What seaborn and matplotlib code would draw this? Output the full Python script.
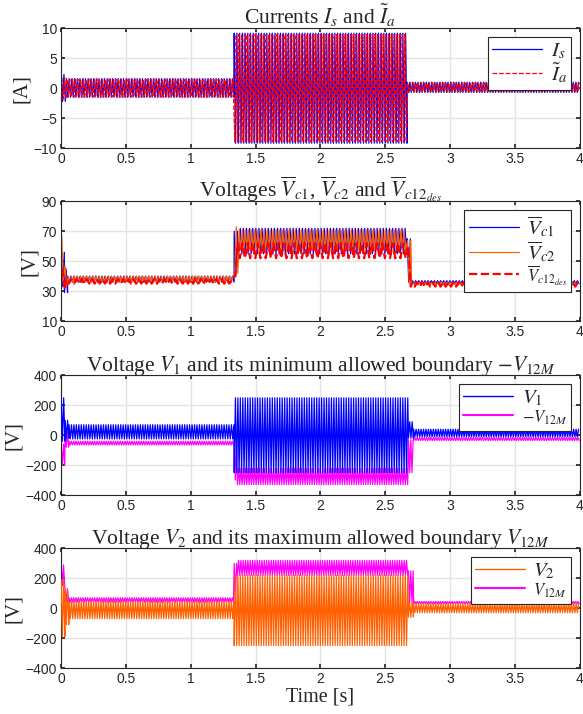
import numpy as np
import matplotlib
matplotlib.use("Agg")
import matplotlib.pyplot as plt
import seaborn as sns

# ---- data: piecewise bands (start, end, low, high) ----
# Panel 1: currents [A]
is_t0 = [0.0, 0.04, 1.335, 2.67]
is_t1 = [0.04, 1.335, 2.67, 4.0]
is_lo = [-2.2, -1.5, -9.2, -0.7]
is_hi = [2.3, 1.6, 9.2, 1.0]

ia_t0 = [0.0, 0.04, 1.335, 2.67]
ia_t1 = [0.04, 1.335, 2.67, 4.0]
ia_lo = [-1.8, -1.5, -9.0, -0.6]
ia_hi = [1.8, 1.5, 9.0, 0.9]

# Panel 2: capacitor voltages [V]
vc1_t0 = [0.0, 0.025, 0.05, 1.335, 1.37, 2.67, 2.70]
vc1_t1 = [0.025, 0.05, 1.335, 1.37, 2.67, 2.70, 4.0]
vc1_lo = [33, 29, 36, 40, 55, 36, 35]
vc1_hi = [56, 45, 40, 70, 72, 65, 37]

vc2_t0 = [0.0, 0.025, 0.05, 1.335, 1.37, 2.67, 2.70]
vc2_t1 = [0.025, 0.05, 1.335, 1.37, 2.67, 2.70, 4.0]
vc2_lo = [35, 33, 36, 42, 57, 35, 34]
vc2_hi = [67, 47, 40, 73, 71, 64, 36]

vcd_t0 = [0.0, 0.03, 0.05, 1.335, 1.37, 2.67, 2.70]
vcd_t1 = [0.03, 0.05, 1.335, 1.37, 2.67, 2.70, 4.0]
vcd_lo = [31, 33, 35, 40, 52, 33, 33]
vcd_hi = [45, 38, 38, 62, 62, 60, 36]

# Panel 3: V1 and -V12M [V]
v1_t0 = [0.0, 0.03, 0.06, 1.335, 2.68, 2.72]
v1_t1 = [0.03, 0.06, 1.335, 2.68, 2.72, 4.0]
v1_lo = [-40, -20, -25, -250, -20, -10]
v1_hi = [250, 100, 70, 250, 90, 40]

m1_t0 = [0.0, 0.03, 0.06, 1.335, 1.36, 2.68, 2.72]
m1_t1 = [0.03, 0.06, 1.335, 1.36, 2.68, 2.72, 4.0]
m1_lo = [-200, -80, -65, -300, -330, -250, -35]
m1_hi = [-60, 20, -40, -60, -220, -30, -15]

# Panel 4: V2 and V12M [V]
v2_t0 = [0.0, 0.03, 0.06, 1.335, 2.68, 2.72]
v2_t1 = [0.03, 0.06, 1.335, 2.68, 2.72, 4.0]
v2_lo = [-190, -110, -70, -250, -60, -30]
v2_hi = [190, 120, 45, 220, 40, 30]

m2_t0 = [0.0, 0.03, 0.06, 1.335, 1.36, 2.68, 2.72]
m2_t1 = [0.03, 0.06, 1.335, 1.36, 2.68, 2.72, 4.0]
m2_lo = [150, 40, 40, 60, 220, 40, 30]
m2_hi = [290, 130, 70, 300, 320, 250, 45]


def band(t0, t1, lo, hi, step, shift=0.0):
    """oscillating trace that swings between the read low/high of each band"""
    xs, ys = [], []
    k = 0
    for a, b, l, h in zip(t0, t1, lo, hi):
        t = a + shift
        while t < b:
            xs.append(t)
            ys.append(h if k % 2 == 0 else l)
            t += step
            k += 1
    return np.array(xs), np.array(ys)


sns.set_theme(style="whitegrid")
plt.rcParams["font.family"] = ["Liberation Sans", "DejaVu Sans"]
plt.rcParams["mathtext.fontset"] = "stix"
plt.rcParams["axes.edgecolor"] = "#262626"
plt.rcParams["grid.color"] = "#e3e3e3"

serif = ["Liberation Serif", "DejaVu Serif"]
tsize = 15.5

fig = plt.figure(figsize=(5.83, 7.14), dpi=100)
left, width = 0.105, 0.889
bottoms = [0.7927, 0.5504, 0.3067, 0.0644]
height = 0.1675
axes = [fig.add_axes([left, b, width, height]) for b in bottoms]

# Panel 1
ax = axes[0]
x, y = band(is_t0, is_t1, is_lo, is_hi, 0.0105)
sns.lineplot(x=x, y=y, ax=ax, color="#0000ff", lw=0.9, estimator=None, sort=False, label="$I_s$")
x, y = band(ia_t0, ia_t1, ia_lo, ia_hi, 0.0105, 0.005)
sns.lineplot(x=x, y=y, ax=ax, color="#ff0000", lw=0.9, linestyle="--", estimator=None, sort=False,
             label=r"$\tilde{I}_a$")
ax.set_ylim(-10, 10)
ax.set_yticks([-10, -5, 0, 5, 10])
ax.set_ylabel("[A]", family=serif, fontsize=15, labelpad=2)
ax.set_title(r"Currents $I_s$ and $\tilde{I}_a$", family=serif, fontsize=tsize, pad=3)

# Panel 2
ax = axes[1]
x, y = band(vc1_t0, vc1_t1, vc1_lo, vc1_hi, 0.012)
sns.lineplot(x=x, y=y, ax=ax, color="#0000ff", lw=0.9, estimator=None, sort=False,
             label=r"$\overline{V}_{c1}$")
x, y = band(vc2_t0, vc2_t1, vc2_lo, vc2_hi, 0.012, 0.004)
sns.lineplot(x=x, y=y, ax=ax, color="#ff6000", lw=0.9, estimator=None, sort=False,
             label=r"$\overline{V}_{c2}$")
x, y = band(vcd_t0, vcd_t1, vcd_lo, vcd_hi, 0.02, 0.008)
sns.lineplot(x=x, y=y, ax=ax, color="#ff0000", lw=1.6, linestyle="--", estimator=None, sort=False,
             label=r"$\overline{V}_{c12_{des}}$")
ax.set_ylim(10, 90)
ax.set_yticks([10, 30, 50, 70, 90])
ax.set_ylabel("[V]", family=serif, fontsize=15, labelpad=2)
ax.set_title(r"Voltages $\overline{V}_{c1}$, $\overline{V}_{c2}$ and $\overline{V}_{c12_{des}}$",
             family=serif, fontsize=tsize, pad=3)

# Panel 3
ax = axes[2]
x, y = band(m1_t0, m1_t1, m1_lo, m1_hi, 0.009)
sns.lineplot(x=x, y=y, ax=ax, color="#ff00ff", lw=0.9, estimator=None, sort=False, zorder=2)
x, y = band(v1_t0, v1_t1, v1_lo, v1_hi, 0.0095)
sns.lineplot(x=x, y=y, ax=ax, color="#0000ff", lw=0.9, estimator=None, sort=False, zorder=3)
ax.set_ylim(-400, 400)
ax.set_yticks([-400, -200, 0, 200, 400])
ax.set_ylabel("[V]", family=serif, fontsize=15, labelpad=2)
ax.set_title(r"Voltage $V_1$ and its minimum allowed boundary $-V_{12M}$",
             family=serif, fontsize=tsize, pad=3)
h3 = [plt.Line2D([], [], color="#0000ff", lw=1), plt.Line2D([], [], color="#ff00ff", lw=1.5)]
l3 = ["$V_1$", r"$-V_{12M}$"]

# Panel 4
ax = axes[3]
x, y = band(m2_t0, m2_t1, m2_lo, m2_hi, 0.009)
sns.lineplot(x=x, y=y, ax=ax, color="#ff00ff", lw=0.9, estimator=None, sort=False, zorder=2)
x, y = band(v2_t0, v2_t1, v2_lo, v2_hi, 0.0095)
sns.lineplot(x=x, y=y, ax=ax, color="#ff6000", lw=0.9, estimator=None, sort=False, zorder=3)
ax.set_ylim(-400, 400)
ax.set_yticks([-400, -200, 0, 200, 400])
ax.set_ylabel("[V]", family=serif, fontsize=15, labelpad=2)
ax.set_xlabel("Time [s]", family=serif, fontsize=14.5, labelpad=1)
ax.set_title(r"Voltage $V_2$ and its maximum allowed boundary $V_{12M}$",
             family=serif, fontsize=tsize, pad=3)
h4 = [plt.Line2D([], [], color="#ff6000", lw=1), plt.Line2D([], [], color="#ff00ff", lw=1.5)]
l4 = ["$V_2$", "$V_{12M}$"]

# labels that the original draws in a smaller size
small_label = {1: 2, 2: 1, 3: 1}

for i, ax in enumerate(axes):
    ax.set_xlim(0, 4)
    ax.set_xticks([0, 0.5, 1, 1.5, 2, 2.5, 3, 3.5, 4])
    ax.set_xticklabels(["0", "0.5", "1", "1.5", "2", "2.5", "3", "3.5", "4"])
    ax.tick_params(direction="in", length=3, labelsize=10, pad=3, top=True, right=True,
                   bottom=True, left=True, colors="#262626")
    for s in ax.spines.values():
        s.set_linewidth(0.8)
    if i < 2:
        h, l = ax.get_legend_handles_labels()
    elif i == 2:
        h, l = h3, l3
    else:
        h, l = h4, l4
    leg = ax.legend(h, l, loc="upper right", fancybox=False, framealpha=1, edgecolor="#262626",
                    handlelength=2.4, borderpad=0.2, labelspacing=0.0,
                    borderaxespad=0.4, handletextpad=0.4, prop={"size": 15})
    leg.get_frame().set_linewidth(0.8)
    if i in small_label:
        leg.get_texts()[small_label[i]].set_fontsize(12)

fig.savefig("out.png", dpi=100)
